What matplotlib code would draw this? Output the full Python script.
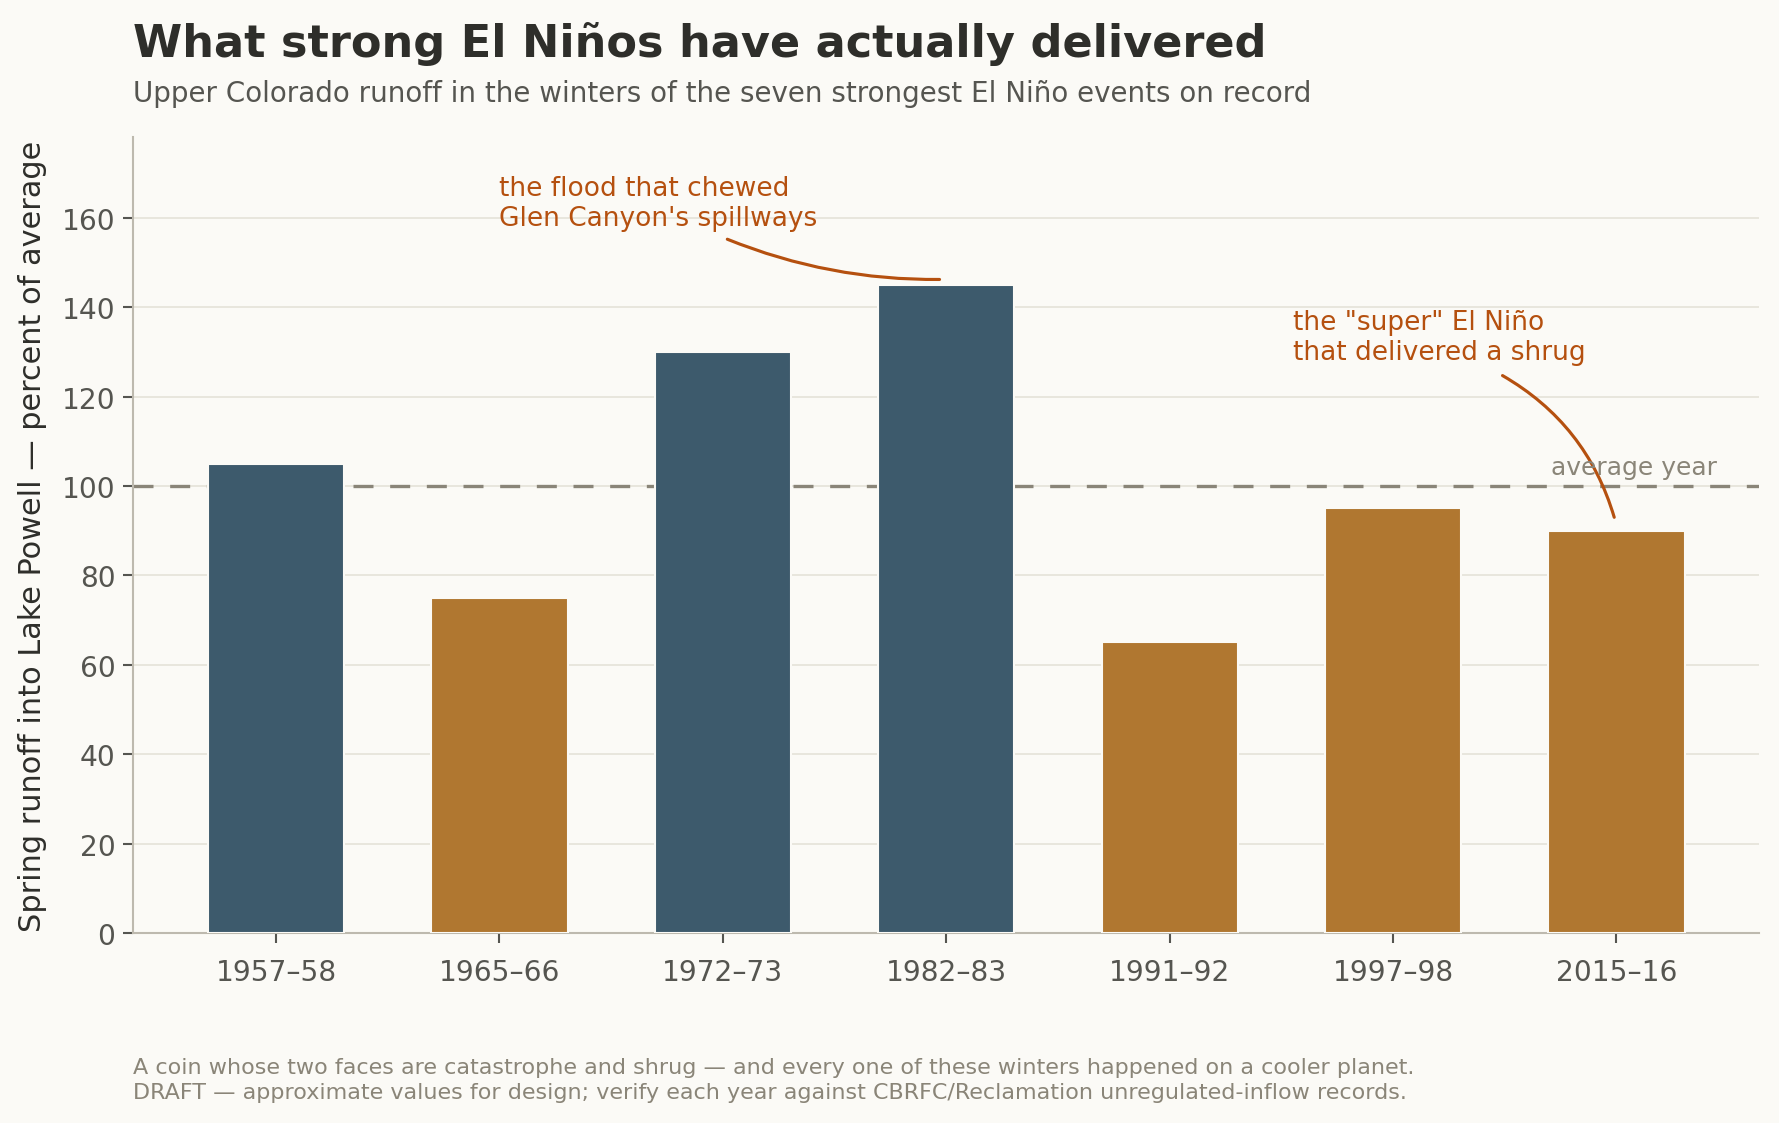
import matplotlib
matplotlib.use("Agg")
import matplotlib.pyplot as plt

# strongest El Nino winters and spring runoff (% of average)
winters = ["1957–58", "1965–66", "1972–73", "1982–83", "1991–92", "1997–98", "2015–16"]
runoff_pct = [105, 75, 130, 145, 65, 95, 90]
average_line = 100

BG = "#fbfaf6"
BLUE = "#3d5a6c"
OCHRE = "#b07730"
RUST = "#b5500f"
GREY = "#8a8578"

plt.rcParams["font.family"] = "DejaVu Sans"

fig = plt.figure(figsize=(11.86, 7.493), dpi=150, facecolor=BG)
ax = fig.add_axes([0.0748, 0.169, 0.9142, 0.708])
ax.set_facecolor(BG)

colors = [BLUE if v >= average_line else OCHRE for v in runoff_pct]
x = range(len(winters))
ax.bar(x, runoff_pct, width=0.61, color=colors, edgecolor=BG, linewidth=1.0, zorder=3)

ax.axhline(average_line, color=GREY, lw=1.6, linestyle=(0, (6, 5)), zorder=2)
ax.text(6.45, average_line + 1.5, "average year", color=GREY, fontsize=12,
        ha="right", va="bottom", zorder=4)

ax.set_xlim(-0.64, 6.64)
ax.set_ylim(0, 178)
ax.set_xticks(list(x))
ax.set_xticklabels(winters)
ax.set_yticks(range(0, 161, 20))
ax.grid(axis="y", color="#e5e2d8", lw=0.8, zorder=0)
ax.set_axisbelow(True)

for s in ["top", "right"]:
    ax.spines[s].set_visible(False)
for s in ["left", "bottom"]:
    ax.spines[s].set_color("#bdb9ae")
    ax.spines[s].set_linewidth(1.0)
ax.tick_params(colors="#555550", labelsize=13.5, length=5, width=1.0)
ax.tick_params(axis="x", pad=7)

ax.set_ylabel("Spring runoff into Lake Powell — percent of average", fontsize=14.6,
              color="#2e2e2a", labelpad=7)

# annotations
ax.text(1.0, 157, "the flood that chewed\nGlen Canyon's spillways", color=RUST,
        fontsize=12.7, ha="left", va="bottom", linespacing=1.2)
ax.annotate("", xy=(2.97, 146.2), xytext=(2.02, 155.2),
            arrowprops=dict(arrowstyle="-", color=RUST, lw=1.5,
                            connectionstyle="arc3,rad=0.1",
                            shrinkA=0, shrinkB=0))

ax.text(4.55, 127, "the \"super\" El Niño\nthat delivered a shrug", color=RUST,
        fontsize=12.7, ha="left", va="bottom", linespacing=1.2)
ax.annotate("", xy=(5.99, 93), xytext=(5.49, 124.7),
            arrowprops=dict(arrowstyle="-", color=RUST, lw=1.5,
                            connectionstyle="arc3,rad=-0.2",
                            shrinkA=0, shrinkB=0))

fig.text(0.0748, 0.9496, "What strong El Niños have actually delivered",
         fontsize=21.4, fontweight="bold", color="#2e2e2a", va="baseline")
fig.text(0.0748, 0.909,
         "Upper Colorado runoff in the winters of the seven strongest El Niño events on record",
         fontsize=13.3, color="#555550", va="baseline")
fig.text(0.0748, 0.019,
         "A coin whose two faces are catastrophe and shrug — and every one of these winters happened on a cooler planet.\n"
         "DRAFT — approximate values for design; verify each year against CBRFC/Reclamation unregulated-inflow records.",
         fontsize=10.7, color=GREY, va="bottom", linespacing=1.3)

fig.savefig("out.png", dpi=150, facecolor=BG)
